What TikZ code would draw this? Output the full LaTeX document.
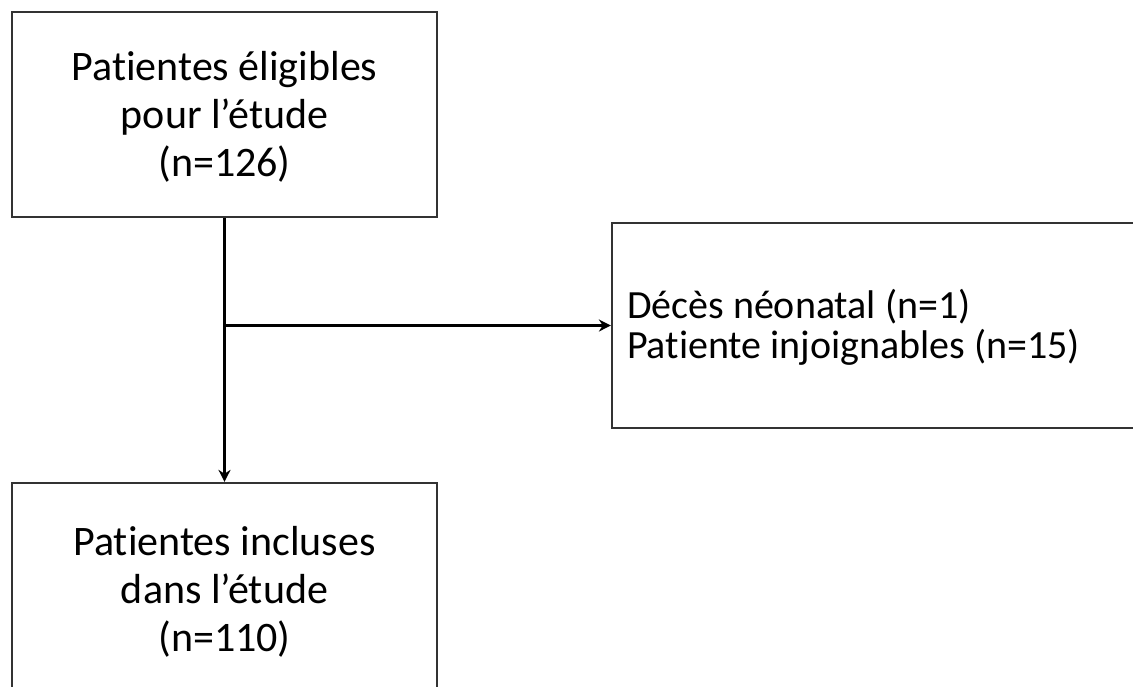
\documentclass[tikz,border=0pt]{standalone}
\usepackage{fontspec}
\setmainfont[Ligatures=NoCommon]{Carlito}
\usetikzlibrary{arrows.meta}
\tikzset{%
  every box/.style={
    rectangle,
    draw=black!80,
    line width=1.1pt,
    minimum width=212.5pt,
    minimum height=102.5pt,
    align=center,
    font=\fontsize{21}{24}\selectfont
  },
  box side/.style={
    minimum width=264pt,
    text width=249pt,
    inner xsep=7.5pt,
    align=flush left,
    font=\fontsize{20}{20}\selectfont
  },
}

\begin{document}
\begin{tikzpicture}[x=0.5pt, y=-0.5pt, >={Stealth[length=6pt,width=6pt]}]
        \useasboundingbox (0,0) rectangle (1133,686);
        
        % boxes
        \node [every box] (eligible) at (224.5,114.5)
        {\rule{0pt}{17pt}Patientes éligibles\\pour l’étude\\(n=126)};
        
        \node [every box, box side] (excluded) at (876,325.5)
        {\rule{0pt}{16pt}Décès néonatal (n=1)\\Patiente injoignables (n=15)};
        
        \node [every box] (included) at (224.5,585.5)
        {\rule{0pt}{21pt}Patientes incluses\\dans l’étude\\(n=110)};
        
        % arrows
        \draw [->, line width=1.1pt] (eligible) -- (included);
        \draw [->, line width=1.1pt] (eligible.south |- excluded.west) -- (excluded);
        
    \end{tikzpicture}
\end{document}
